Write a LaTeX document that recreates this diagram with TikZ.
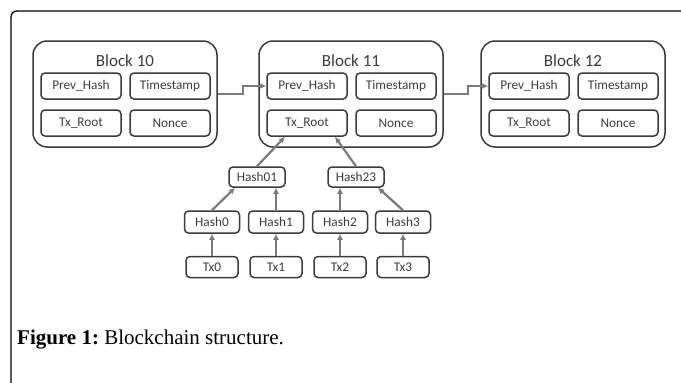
\documentclass[tikz,border=0pt]{standalone}
\usepackage{fontspec}
\newfontfamily\carl{Carlito}
\newfontfamily\capfont{Liberation Serif}
\usetikzlibrary{calc,arrows.meta}
\definecolor{boxline}{HTML}{3A3A3A}
\definecolor{boxtext}{HTML}{3C3C3C}
\definecolor{arrowc}{HTML}{7A7A7A}
\tikzset{
  blockbox/.style={draw=boxline,line width=1.5pt,rounded corners=14pt,minimum width=184pt,minimum height=106pt,inner sep=0pt},
  fieldbox/.style={draw=boxline,line width=1.5pt,rounded corners=4pt,minimum width=80pt,minimum height=26pt,inner sep=0pt,text=boxtext,font=\carl\fontsize{13.3}{15}\selectfont},
  treebox/.style={draw=boxline,line width=1.5pt,rounded corners=4pt,minimum width=55pt,minimum height=22pt,inner sep=0pt,text=boxtext,font=\carl\fontsize{13.3}{15}\selectfont},
  txbox/.style={treebox,minimum width=52pt,minimum height=21pt},
  titletext/.style={text=boxtext,font=\carl\fontsize{17}{19}\selectfont,inner sep=0pt},
  link/.style={draw=arrowc,line width=2.2pt,-{Latex[length=6pt,width=6pt]}},
}
\begin{document}
\begin{tikzpicture}[x=1pt,y=-1pt]
\useasboundingbox (0,0) rectangle (681,383);
% frame
\draw[line width=1.3pt,rounded corners=6pt] (11,383) coordinate (fa) -- (11,11) -- (682,11) coordinate (fb);
% blocks
\foreach \L/\n/\t in {33/10/a,259/11/b,481/12/c}{
  \node[blockbox] (blk\t) at (\L+92,94) {};
  \node[titletext] (ttl\t) at (\L+92,61) {Block \n};
  \node[fieldbox] (prev\t) at (\L+48,86) {Prev\_Hash};
  \node[fieldbox] (time\t) at (\L+137,86) {Timestamp};
  \node[fieldbox] (root\t) at (\L+48,123) {Tx\_Root};
  \node[fieldbox] (nonce\t) at (\L+137,123) {Nonce};
}
\draw[link] (blka.east) -- ++(25,0) |- (prevb.west);
\draw[link] (blkb.east) -- ++(24,0) |- (prevc.west);
% tree
\node[treebox,minimum width=56pt,minimum height=20pt] (h01) at (257,177) {Hash01};
\node[treebox,minimum width=56pt,minimum height=20pt] (h23) at (356,177) {Hash23};
\node[treebox] (h0) at (212,222) {Hash0};
\node[treebox] (h1) at (276,222) {Hash1};
\node[treebox] (h2) at (340,222) {Hash2};
\node[treebox] (h3) at (403,222) {Hash3};
\node[txbox] (t0) at (212,267) {Tx0};
\node[txbox] (t1) at (276,267) {Tx1};
\node[txbox] (t2) at (340,267) {Tx2};
\node[txbox] (t3) at (403,267) {Tx3};
\foreach \i in {0,1,2,3}{\draw[link] (t\i.north) -- (h\i.south);}
\draw[link] (h0.north) -- ($(h01.south)+(-22,0)$);
\draw[link] (h1.north) -- (h1.north |- h01.south);
\draw[link] (h2.north) -- (h2.north |- h23.south);
\draw[link] (h3.north) -- ($(h23.south)+(22,0)$);
\draw[link] (h01.north) -- ($(rootb.south)+(-22,0)$);
\draw[link] (h23.north) -- ($(rootb.south)+(28,0)$);
% caption
\node[anchor=base west,inner sep=0pt,font=\capfont\fontsize{21}{25}\selectfont] (cap) at (17,344) {\textbf{Figure 1:}\ Blockchain structure.};
\end{tikzpicture}
\end{document}
